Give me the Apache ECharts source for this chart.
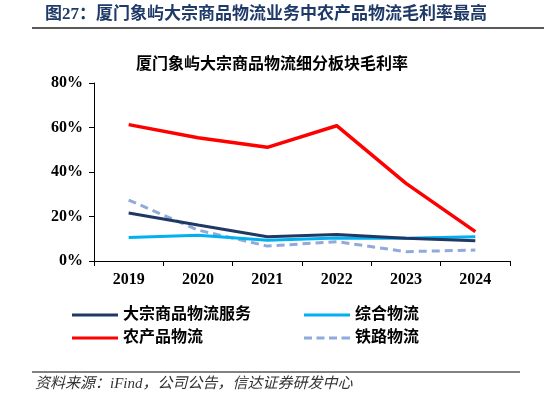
<!DOCTYPE html>
<html>
<head>
<meta charset="utf-8">
<script src="https://cdn.jsdelivr.net/npm/echarts@6/dist/echarts.min.js"></script>
<style>
    html, body { margin: 0; padding: 0; background: #fff; }
    #chart { width: 544px; height: 397px; }
</style>
</head>
<body>
<div id="chart"></div>
<script>
const years = ["2019", "2020", "2021", "2022", "2023", "2024"];
const bulkService = [21.6, 16.2, 10.9, 11.9, 10.2, 9.1];   // 大宗商品物流服务
const integrated = [10.6, 11.6, 9.3, 10.3, 10.2, 10.9];    // 综合物流
const agriculture = [61.3, 55.4, 51.1, 60.8, 34.9, 13.2];  // 农产品物流
const railway = [27.4, 13.9, 6.7, 8.7, 4.2, 4.9];          // 铁路物流
const yTicks = [0, 20, 40, 60, 80];

const serif = "'Liberation Serif', 'Times New Roman', 'Noto Sans CJK SC', serif";
const cjk = "'Liberation Serif', 'Noto Sans CJK SC', serif";

// legend icons: solid bar and dashed bar
const solidIcon = "path://M0,0h46v3h-46z";
const dashIcon = "path://M0,0h8v3h-8z M12.5,0h8v3h-8z M25,0h8v3h-8z M37.5,0h8.5v3h-8.5z";

const chart = echarts.init(document.getElementById("chart"));

function legendAt(name, left, top, icon) {
    return {
        data: [{ name: name, icon: icon }],
        left: left,
        top: top,
        itemWidth: 46,
        itemHeight: 3,
        itemGap: 0,
        padding: 0,
        textStyle: { fontFamily: cjk, fontSize: 16, fontWeight: "bold", color: "#000" },
        selectedMode: false
    };
}

const option = {
    animation: false,
    backgroundColor: "#fff",
    title: {
        text: "厦门象屿大宗商品物流细分板块毛利率",
        left: "center",
        top: 57,
        padding: 0,
        textStyle: { fontFamily: cjk, fontSize: 16, fontWeight: "bold", color: "#000" }
    },
    grid: { left: 94, right: 34, top: 83, bottom: 136 },
    legend: [
        legendAt("大宗商品物流服务", 72, 307, solidIcon),
        legendAt("农产品物流", 72, 330, solidIcon),
        legendAt("综合物流", 304, 307, solidIcon),
        legendAt("铁路物流", 304, 330, dashIcon)
    ],
    xAxis: {
        type: "category",
        data: years,
        boundaryGap: true,
        axisLine: { lineStyle: { color: "#000", width: 1 } },
        axisTick: { show: true, length: 5, lineStyle: { color: "#000" } },
        axisLabel: { fontFamily: serif, fontSize: 16, fontWeight: "bold", color: "#000", margin: 11 }
    },
    yAxis: {
        type: "value",
        min: yTicks[0],
        max: yTicks[yTicks.length - 1],
        interval: 20,
        splitLine: { show: false },
        axisLine: { show: true, lineStyle: { color: "#000", width: 1 } },
        axisTick: { show: true, length: 5, lineStyle: { color: "#000" } },
        axisLabel: {
            fontFamily: serif, fontSize: 16, fontWeight: "bold", color: "#000", margin: 11,
            formatter: (v) => v + "%"
        }
    },
    series: [
        {
            name: "大宗商品物流服务", type: "line", data: bulkService, symbol: "none", z: 3,
            lineStyle: { color: "#1f3864", width: 3 }, itemStyle: { color: "#1f3864" }
        },
        {
            name: "综合物流", type: "line", data: integrated, symbol: "none", z: 2,
            lineStyle: { color: "#00b0f0", width: 3 }, itemStyle: { color: "#00b0f0" }
        },
        {
            name: "农产品物流", type: "line", data: agriculture, symbol: "none", z: 4,
            lineStyle: { color: "#ff0000", width: 3.5 }, itemStyle: { color: "#ff0000" }
        },
        {
            name: "铁路物流", type: "line", data: railway, symbol: "none", z: 1,
            lineStyle: { color: "#8faadc", width: 3, type: [8, 5] }, itemStyle: { color: "#8faadc" }
        }
    ],
    graphic: [
        {
            type: "text", left: 45, top: 6,
            style: {
                text: "图27：厦门象屿大宗商品物流业务中农产品物流毛利率最高",
                font: "bold 17px " + cjk, fill: "#1f3a68"
            }
        },
        {
            type: "line", shape: { x1: 32, y1: 28, x2: 544, y2: 28 },
            style: { stroke: "#595959", lineWidth: 2 }
        },
        {
            type: "line", shape: { x1: 32, y1: 372, x2: 520, y2: 372 },
            style: { stroke: "#595959", lineWidth: 1.5 }
        },
        {
            type: "text", left: 35, top: 377,
            style: {
                text: "资料来源：iFind，公司公告，信达证券研发中心",
                font: "italic 15px " + cjk, fill: "#333"
            }
        }
    ]
};

chart.setOption(option);
</script>
</body>
</html>
